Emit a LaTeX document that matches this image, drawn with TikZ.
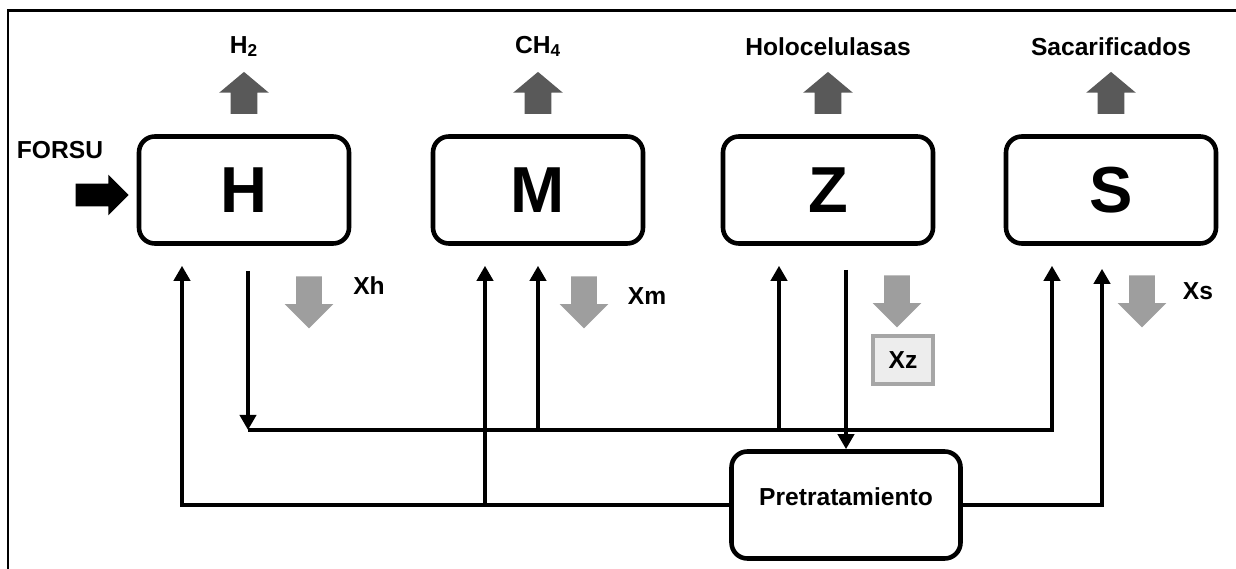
\documentclass[tikz,border=0pt]{standalone}
\usepackage{fontspec}
\setmainfont{Liberation Sans}
\usetikzlibrary{arrows.meta,shapes.arrows}

\begin{document}
\begin{tikzpicture}[font=\bfseries\fontsize{14}{16}\selectfont,unit/.style={draw,line width=2.6pt,rounded corners=9pt,minimum width=4.2cm,minimum height=2.14cm,font=\bfseries\fontsize{37}{40}\selectfont},prod/.style={single arrow,draw=none,fill=black!65,rotate=90,minimum height=0.84cm,inner xsep=0.05cm,inner ysep=0.26cm,single arrow head extend=0.23cm,single arrow tip angle=100},waste/.style={single arrow,draw=none,fill=black!38,rotate=-90,minimum height=1.04cm,inner xsep=0.05cm,inner ysep=0.25cm,single arrow head extend=0.23cm},feed/.style={single arrow,draw=none,fill=black,minimum height=1.06cm,inner xsep=0.05cm,inner ysep=0.22cm,single arrow head extend=0.18cm},fb/.style={line width=2.5pt,-{Triangle[length=0.3cm,width=0.32cm]}}]
\useasboundingbox (0,0) rectangle (24.72,11.38);
\draw[line width=1.7pt] (0.16,0) -- (0.16,11.16) -- (24.72,11.16);
\node[unit] (H) at (4.88,7.58) {H};
\node[unit] (M) at (10.76,7.58) {M};
\node[unit] (Z) at (16.56,7.58) {Z};
\node[unit] (S) at (22.22,7.58) {S};
\node[unit,minimum width=4.58cm,font=\bfseries\fontsize{14}{16}\selectfont,text height=0.36cm,text depth=0.32cm] (P) at (16.92,1.28) {Pretratamiento};
\foreach \n/\t in {H/H\textsubscript{2},M/CH\textsubscript{4},Z/Holocelulasas,S/Sacarificados}{
  \node[prod] (u\n) at ([yshift=1.83cm]\n.center) {};
  \node (l\n) at ([yshift=2.87cm]\n.center) {\t};
}
\node (forsu) at (1.20,8.38) {FORSU};
\node[feed] (in) at (1.93,7.48) {};
\node[waste] (wH) at (6.18,5.46) {};
\node[waste] (wM) at (11.68,5.46) {};
\node[waste] (wZ) at (17.94,5.48) {};
\node[waste] (wS) at (22.84,5.48) {};
\node (xh) at (7.38,5.66) {Xh};
\node (xm) at (12.94,5.46) {Xm};
\node[draw=black!35,line width=2.6pt,fill=black!7,minimum width=1.2cm,minimum height=0.96cm] (xz) at (18.06,4.18) {Xz};
\node (xs) at (23.96,5.56) {Xs};
\coordinate (bus) at (0,2.78);
\coordinate (h1) at ([xshift=-1.24cm]H.south);
\coordinate (h2) at ([xshift=0.08cm]H.south);
\coordinate (m1) at ([xshift=-1.06cm]M.south);
\coordinate (z1) at ([xshift=-0.98cm]Z.south);
\coordinate (s1) at ([xshift=-1.18cm]S.south);
\coordinate (s2) at ([xshift=-0.18cm]S.south);
\draw[fb,shorten >=0.4cm] (P.west) -| (h1);
\draw[fb,shorten >=0.4cm] (m1 |- P.west) -- (m1);
\draw[fb,shorten <=0.5cm] (h2) -- (h2 |- bus);
\draw[fb,shorten >=0.4cm] (h2 |- bus) -| (s1);
\draw[fb,shorten >=0.4cm] (M.south |- bus) -- (M.south);
\draw[fb,shorten >=0.4cm] (z1 |- bus) -- (z1);
\draw[fb,shorten <=0.48cm] (P.north |- Z.south) -- (P.north);
\draw[fb,shorten >=0.46cm] (P.east) -| (s2);
\end{tikzpicture}
\end{document}
